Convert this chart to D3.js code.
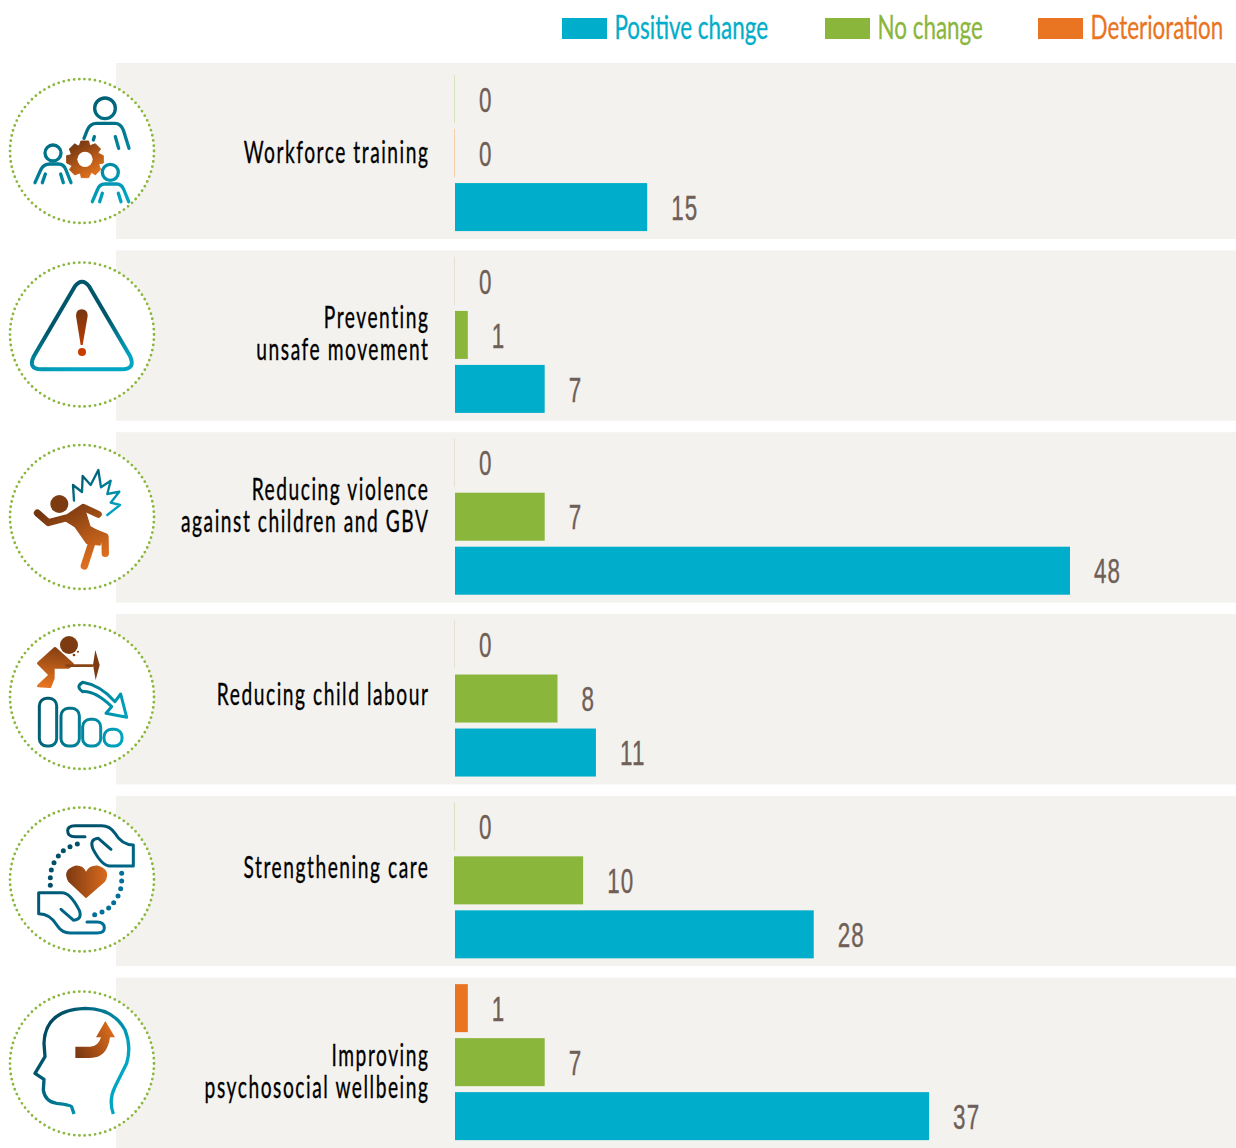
<!DOCTYPE html>
<html><head><meta charset="utf-8">
<script src="https://cdn.jsdelivr.net/npm/d3@7"></script>
<style>html,body{margin:0;padding:0;background:#fff}svg{display:block}text{font-family:Lato,"Liberation Sans",sans-serif}</style>
</head><body><div id="c"></div>
<script>
const categories=[["Workforce training"],["Preventing","unsafe movement"],["Reducing violence","against children and GBV"],["Reducing child labour"],["Strengthening care"],["Improving","psychosocial wellbeing"]];
const deterioration=[0,0,0,0,0,1];
const noChange=[0,1,7,8,10,7];
const positive=[15,7,48,11,28,37];
const zeroTints=[["#d5e2bd","#f3cfae"],["#e6e0d0","#d5e2bd"],["#e6e0d0","#d5e2bd"],["#e6e0d0","#d5e2bd"],["#d9e3c4","#d5e2bd"],["#e6e0d0","#d5e2bd"]];
const labelShift=[9.2,8.4,-1.4,5.8,-3,19.2];
const seriesNames=["Positive change","No change","Deterioration"];
const seriesColors=["#00adca","#8ab63c","#e97422"];
const W=1236,H=1148;
const svg=d3.select("#c").append("svg").attr("width",W).attr("height",H);
const defs=svg.append("defs");
function grad(id,c,x1,y1,x2,y2){const g=defs.append("linearGradient").attr("id",id).attr("gradientUnits","userSpaceOnUse").attr("x1",x1).attr("y1",y1).attr("x2",x2).attr("y2",y2);
 c.forEach((k,i)=>g.append("stop").attr("offset",i/(c.length-1)).attr("stop-color",k));}
const TEAL=["#00566a","#00a5c2"],BROWN=["#713510","#e5731f"];
grad("t1",TEAL,200,120,340,430);grad("b1",BROWN,220,250,280,350);
grad("t2",TEAL,200,800,230,925);
grad("r2",["#753610","#cc3c00"],245,748,245,880);
grad("t3",TEAL,240,130,340,250);grad("b3",BROWN,200,210,300,400);
grad("t4",TEAL,120,800,380,900);grad("b4",BROWN,180,630,160,770);
grad("t5",["#00465c","#0078a0"],120,110,400,420);grad("t5b",["#0078a0","#00465c"],120,110,400,420);grad("b5",["#7d3a12","#d86a1c"],200,270,320,270);
grad("t6",["#00465c","#00a5c2"],150,680,380,800);grad("b6",["#7d3a12","#d86a1c"],228,780,340,730);

const x=d3.scaleLinear().domain([0,48]).range([455,1070]);
const rowY=d3.scaleBand().domain(d3.range(6)).range([68.6,1148]).paddingInner(0.063).paddingOuter(0);
const barY=d3.scaleBand().domain(["deterioration","noChange","positive"]).range([6.5,162.5]).paddingInner(0.111);
const rows=svg.selectAll("g.row").data(d3.range(6)).join("g").attr("class","row").attr("transform",i=>`translate(0,${rowY(i)})`);
rows.append("rect").attr("x",116).attr("width",W-116).attr("y",i=>i===0?-5.6:0).attr("height",i=>i===0?rowY.bandwidth()+5.6:rowY.bandwidth()).attr("fill","#f4f2ef");
function cText(sel,size,sx,anchorX,y,anchor,fill,ls,heft){const t=sel.append("text").attr("transform",`translate(${anchorX},${y}) scale(${sx},1)`).attr("text-anchor",anchor).attr("font-size",size).attr("fill",fill).attr("letter-spacing",ls||0);
 if(heft)t.attr("stroke",fill).attr("stroke-width",heft);return t;}
const series=[["deterioration",deterioration,2],["noChange",noChange,1],["positive",positive,0]];
series.forEach(([k,vals,ci],si)=>{
 rows.each(function(i){
  const g=d3.select(this),v=vals[i],y=barY(k),h=barY.bandwidth();
  if(v>0)g.append("rect").attr("x",x(0)-(v===10?1:0)).attr("y",y).attr("width",x(v)-x(0)+(v===10?1:0)).attr("height",h).attr("fill",seriesColors[ci]);
  else g.append("rect").attr("x",x(0)-1).attr("y",y).attr("width",1).attr("height",h).attr("fill",zeroTints[i][si]);
  cText(g,35,0.64,x(v)+24,y+h/2+12.7,"start","#6f5f57",1.8,0.4).style("font-family","'Liberation Sans'").text(v);
 });
});
rows.each(function(i){
 const g=d3.select(this),L=categories[i],mid=rowY.bandwidth()/2+labelShift[i];
 L.forEach((t,j)=>cText(g,30,0.64,429.5,mid+(j-(L.length-1)/2)*32,"end","#000",2.4,0.35).text(t));
});
const legendX=[562,825,1038];
seriesNames.forEach((n,i)=>{
 svg.append("rect").attr("x",legendX[i]).attr("y",18).attr("width",45).attr("height",21).attr("fill",seriesColors[i]);
 cText(svg,33,0.68,legendX[i]+52.5,39,"start",seriesColors[i],0,0.3).text(n);
});
const circleY=[151,334.5,517,697,879.5,1063.5];
circleY.forEach(cy=>svg.append("circle").attr("cx",82).attr("cy",cy).attr("r",72).attr("fill","#fff").attr("stroke","#8ab63c").attr("stroke-width",2.8).attr("stroke-linecap","round").attr("stroke-dasharray","0 5.25"));
const lay=(oy)=>svg.append("g").attr("transform",`translate(0,${oy}) scale(${1/3})`);
const P=(g,d,stroke,w,fill)=>g.append("path").attr("d",d).attr("fill",fill||"none").attr("stroke",stroke||"none").attr("stroke-width",w||0).attr("stroke-linecap","round").attr("stroke-linejoin","round");
const C=(g,cx,cy,r,stroke,w,fill)=>g.append("circle").attr("cx",cx).attr("cy",cy).attr("r",r).attr("fill",fill||"none").attr("stroke",stroke||"none").attr("stroke-width",w||0);
let g=lay(60),T="url(#t1)";
C(g,315,145,31,T,10);
P(g,"M252 235 L262 210 Q270 190 290 190 L345 190 Q362 190 370 210 L387 265",T,10);
P(g,"M283 230 L280 240M346 230 L356 265",T,10);
C(g,159,279,24,T,10);
P(g,"M105 368 L122 330 Q130 312 150 312 L175 312 Q192 312 198 330 L213 368",T,10);
P(g,"M136 342 L127 368M182 342 L190 368",T,10);
C(g,331,337,24,T,10);
P(g,"M277 425 L292 390 Q298 372 315 372 L350 372 Q365 372 372 390 L386 425",T,10);
P(g,"M307 400 L299 425M355 400 L363 425",T,10);
{let d="";const n=8,cx=255,cy=298;for(let i=0;i<n;i++){const a=i*2*Math.PI/n-Math.PI/2,w=0.2,w2=0.3;
 const pt=(r,t)=>[cx+r*Math.cos(t),cy+r*Math.sin(t)];
 [[56,a-w],[56,a+w],[45,a+w2],[45,a+Math.PI/n]].forEach((q,j)=>{const p=pt(q[0],q[1]);d+=(i==0&&j==0?"M":"L")+p[0].toFixed(1)+" "+p[1].toFixed(1);});}
 d+="Z";P(g,d,"url(#b1)",3,"url(#b1)");C(g,cx,cy,23,null,0,"#fff");}
g=lay(60);
P(g,"M224 680 Q246 650 268 680 L390 888 Q408 928 365 928 L125 928 Q82 928 102 888 Z","url(#t2)",12);
P(g,"M228 768 Q228 748 245 748 Q263 748 263 768 L248 855 L242 855 Z",null,0,"url(#r2)");
C(g,246,876,12,null,0,"#c83c00");
g=lay(430);
C(g,178,222,27,null,0,"#7c3b11");
P(g,"M112 249 L145 278 L205 262 L250 232 L295 253","url(#b3)",21);
P(g,"M190 268 L250 225 L270 290 L315 315 L300 345 L260 340 L225 290 Z","url(#b3)",4,"url(#b3)");
P(g,"M262 300 L315 320 L316 370","url(#b3)",22);
P(g,"M275 340 L253 408","url(#b3)",22);
P(g,"M222 212 L219 165 L246 186 L248 138 L272 165 L295 120 L303 172 L332 152 L322 192 L358 185 L332 218 L360 225 L322 255","url(#t3)",7);
g=lay(430);
C(g,207,645,27,null,0,"#7c3b11");
P(g,"M115 700 L165 655 L218 703 L205 712 L160 712 L160 745 L150 770 L115 768 L150 735 Z","url(#b4)",8,"url(#b4)");
P(g,"M200 707 L276 707","#8a4414",8);
P(g,"M286 660 L299 705 L287 750 L279 705 Z",null,0,"#7c3b11");
C(g,222,675,4,null,0,"#7c3b11");C(g,234,665,3,null,0,"#7c3b11");
P(g,"M248 757 Q300 765 345 815 L362 792 L380 862 L318 850 L335 830 Q285 782 248 785 Q225 770 248 757 Z","url(#t4)",9,"#fff");
[[118,805,52,143,22],[183,835,55,113,22],[248,868,54,80,22],[312,898,54,50,22]].forEach(r=>g.append("rect").attr("x",r[0]).attr("y",r[1]).attr("width",r[2]).attr("height",r[3]).attr("rx",r[4]).attr("fill","none").attr("stroke","url(#t4)").attr("stroke-width",9));
g=lay(790);T="url(#t5)";
P(g,"M258 325 L205 275 Q185 240 225 227 Q250 225 258 245 Q268 225 295 227 Q335 240 315 275 Z",null,0,"url(#b5)");
const hand="M255 140 L225 140 Q203 140 203 122 Q203 107 225 107 L305 107 Q330 107 345 130 Q365 165 400 165 L400 228 L330 228 Q305 228 278 175 Q268 148 295 145 L333 178";
P(g,hand,T,9);
P(g.append("g").attr("transform","rotate(180 258 268)"),hand,"url(#t5b)",9);
[[232,162],[210,170],[190,182],[175,198],[162,218],[154,240],[151,263],[151,286]].forEach(p=>{C(g,p[0],p[1],7.5,null,0,"#00506a");C(g,516-p[0],536-p[1],7.5,null,0,"#00709a");});
g=lay(790);
P(g,"M340 972 Q325 930 345 890 L380 820 Q395 770 375 720 Q340 655 255 655 Q135 660 132 760 L135 800 L105 850 L132 868 L130 900 Q135 935 170 940 Q215 945 215 950 L222 972","url(#t6)",10).attr("stroke-linecap","butt");
P(g,"M226 804 L226 770 L270 770 Q295 770 303 742 L288 742 L316 693 L345 742 L330 742 Q322 804 270 804 Z",null,0,"url(#b6)");
</script></body></html>
